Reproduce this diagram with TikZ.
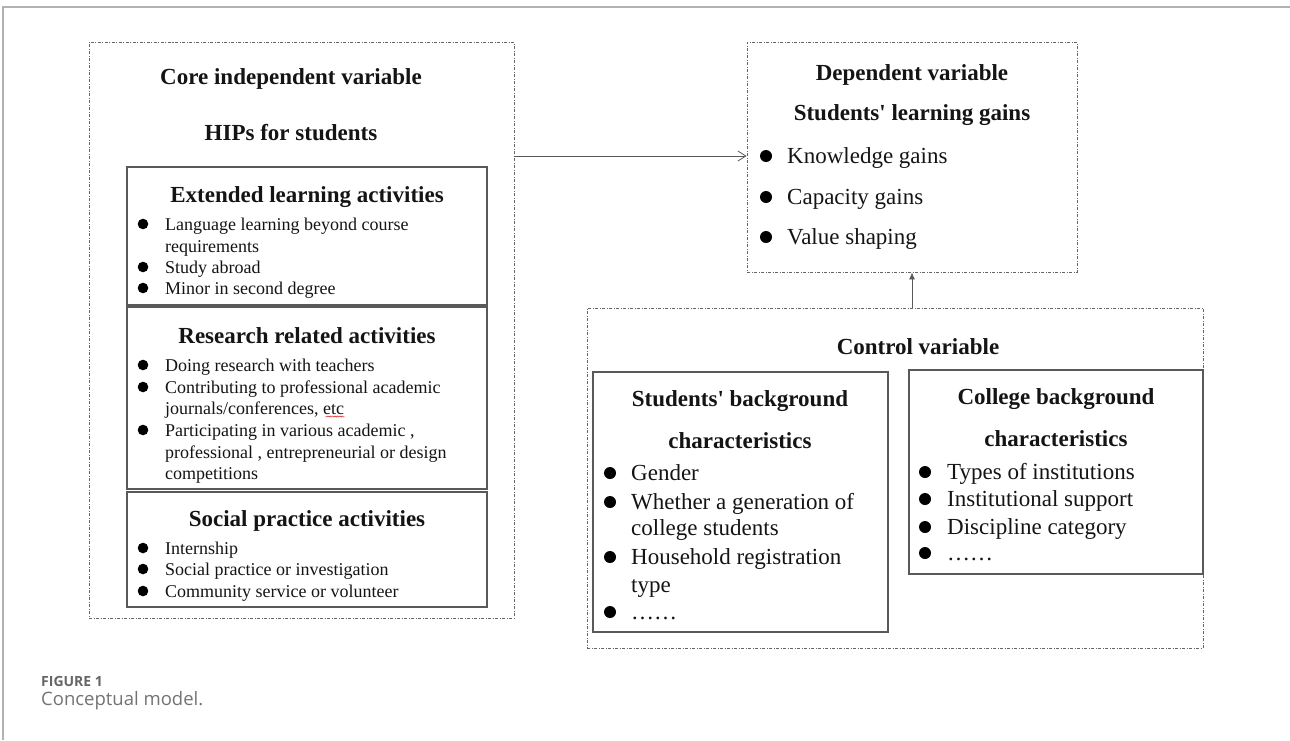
\documentclass[tikz,border=0pt]{standalone}
\usepackage{fontspec}
\setmainfont{Liberation Serif}[Ligatures=TeXOff]
\newfontfamily\capfont{Open Sans}
\usetikzlibrary{arrows.meta,decorations.pathmorphing}

\begin{document}
\begin{tikzpicture}[x=1pt,y=-1pt,
  dashbox/.style={draw=black!60, line width=0.8pt,
    dash pattern=on 3pt off 1.5pt on 1pt off 1.5pt, inner sep=0pt},
  solidbox/.style={draw=black!65, line width=1.1pt, inner sep=0pt},
  head/.style={font=\fontsize{23}{23}\selectfont\bfseries, inner sep=0pt,
    anchor=base, yshift=-7.5pt, text=black!92},
  smalltxt/.style={font=\fontsize{18}{18}\selectfont, inner sep=0pt,
    anchor=base west, yshift=-6pt, text=black!92},
  bigtxt/.style={font=\fontsize{23}{23}\selectfont, inner sep=0pt,
    anchor=base west, yshift=-7pt, text=black!92},
  link/.style={draw=black!65, line width=0.8pt},
]
\useasboundingbox (0,0) rectangle (1290,740);

% page frame
\draw[black!30, line width=1.5pt] (3,740) -- (3,7) -- (1290,7);

% ---------- core independent variable ----------
\node[dashbox, minimum width=425pt, minimum height=576pt] (core) at (301.5,330) {};
\node[head] (coreT) at (291,77) {Core independent variable};
\node[head] (hips) at (291,133) {HIPs for students};

\node[solidbox, minimum width=360pt, minimum height=138pt] (ext) at (307,236) {};
\node[head] (extT) at (307,195) {Extended learning activities};
\node[smalltxt] (e1) at (165,224) {Language learning beyond course};
\node[smalltxt] (e2) at (165,246) {requirements};
\node[smalltxt] (e3) at (165,267) {Study abroad};
\node[smalltxt] (e4) at (165,288) {Minor in second degree};
\foreach \yy in {224,267,288} \fill (143,\yy) circle[radius=5.3pt];

\node[solidbox, minimum width=360pt, minimum height=182pt] (res) at (307,398) {};
\node[head] (resT) at (307,336) {Research related activities};
\node[smalltxt] (r1) at (165,365) {Doing research with teachers};
\node[smalltxt] (r2) at (165,387) {Contributing to professional academic};
\node[smalltxt] (r3) at (165,408) {journals/conferences, etc};
\node[smalltxt] (r4) at (165,430) {Participating in various academic ,};
\node[smalltxt] (r5) at (165,452) {professional , entrepreneurial or design};
\node[smalltxt] (r6) at (165,473) {competitions};
\foreach \yy in {365,387,430} \fill (143,\yy) circle[radius=5.3pt];
\draw[red!85!black, line width=0.4pt, decorate,
  decoration={snake, amplitude=0.6pt, segment length=2.4pt}]
  ([yshift=-2.5pt]r3.base east) -- ++(-19,0);

\node[solidbox, minimum width=360pt, minimum height=115pt] (soc) at (307,549.5) {};
\node[head] (socT) at (307,519) {Social practice activities};
\node[smalltxt] (s1) at (165,548) {Internship};
\node[smalltxt] (s2) at (165,569) {Social practice or investigation};
\node[smalltxt] (s3) at (165,591) {Community service or volunteer};
\foreach \yy in {548,569,591} \fill (143,\yy) circle[radius=5.3pt];

% ---------- dependent variable ----------
\node[dashbox, minimum width=330pt, minimum height=230pt] (dep) at (912,157) {};
\node[head] (depT) at (912,73) {Dependent variable};
\node[head] (gains) at (912,113) {Students' learning gains};
\node[bigtxt] (d1) at (787,156) {Knowledge gains};
\node[bigtxt] (d2) at (787,197) {Capacity gains};
\node[bigtxt] (d3) at (787,237) {Value shaping};
\foreach \yy in {156,197,237} \fill (766,\yy) circle[radius=6pt];

% ---------- control variable ----------
\node[dashbox, minimum width=616pt, minimum height=340pt] (ctrl) at (895,478) {};
\node[head] (ctrlT) at (918,347) {Control variable};

\node[solidbox, minimum width=295pt, minimum height=260pt] (stu) at (740.5,502) {};
\node[head] (stuT1) at (740,399) {Students' background};
\node[head] (stuT2) at (740,441) {characteristics};
\node[bigtxt] (c1) at (631,473) {Gender};
\node[bigtxt] (c2) at (631,502) {Whether a generation of};
\node[bigtxt] (c3) at (631,528) {college students};
\node[bigtxt] (c4) at (631,557) {Household registration};
\node[bigtxt] (c5) at (631,585) {type};
\node[bigtxt] (c6) at (631,612) {……};
\foreach \yy in {473,502,557,612} \fill (610,\yy) circle[radius=6pt];

\node[solidbox, minimum width=294pt, minimum height=204pt] (col) at (1056,472) {};
\node[head] (colT1) at (1056,397) {College background};
\node[head] (colT2) at (1056,439) {characteristics};
\node[bigtxt] (g1) at (947,472) {Types of institutions};
\node[bigtxt] (g2) at (947,499) {Institutional support};
\node[bigtxt] (g3) at (947,527) {Discipline category};
\node[bigtxt] (g4) at (947,553) {……};
\foreach \yy in {472,499,527,553} \fill (925,\yy) circle[radius=6pt];

% ---------- connectors ----------
\draw[link, -{Straight Barb[length=8pt,width=10pt]}] (core.east |- 0,156) -- (dep.west |- 0,156);
\draw[link, -{Latex[length=7pt,width=6pt]}] (dep.south |- ctrl.north) -- (dep.south);

% ---------- caption ----------
\node[anchor=base west, inner sep=0pt, text=black!60,
  font=\capfont\fontsize{14}{14}\selectfont\bfseries] (figlab) at (41,686.5) {FIGURE 1};
\node[anchor=base west, inner sep=0pt, text=black!55,
  font=\capfont\fontsize{18.5}{18.5}\selectfont] (figcap) at (41,705) {Conceptual model.};
\end{tikzpicture}
\end{document}
